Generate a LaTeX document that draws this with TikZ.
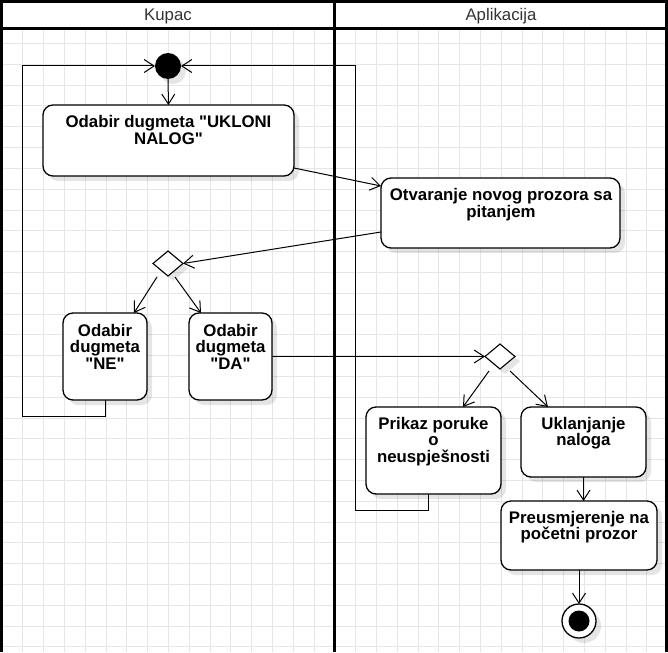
\documentclass[tikz,border=0pt]{standalone}
\usepackage{fontspec}
\setmainfont{Liberation Sans}[Ligatures=TeXOff]
\usetikzlibrary{arrows.meta,shapes.geometric,shadows}
\definecolor{gridc}{HTML}{E6E6E6}
\definecolor{hdrtxt}{HTML}{333333}
\begin{document}
\begin{tikzpicture}[x=1pt,y=-1pt,
  shd/.style={drop shadow={shadow xshift=5pt, shadow yshift=-5pt, opacity=0.1, fill=black}},
  box/.style={draw, line width=1.3pt, rounded corners=10pt, fill=white, inner sep=0pt, outer sep=0pt, shd},
  dec/.style={draw, diamond, line width=1.1pt, fill=white, inner sep=0pt, outer sep=0pt, minimum width=30pt, minimum height=25pt, shd},
  startc/.style={circle, fill=black, inner sep=0pt, outer sep=0pt, minimum size=26pt, shd},
  endo/.style={circle, draw, line width=1.3pt, fill=white, inner sep=0pt, outer sep=0pt, minimum size=34pt, shd},
  endi/.style={circle, fill=black, inner sep=0pt, minimum size=21pt},
  lbl/.style={font=\fontsize{16.8}{16.7}\selectfont\bfseries, align=center, anchor=base, inner sep=0pt},
  hdr/.style={font=\fontsize{16.8}{17}\selectfont, text=hdrtxt, anchor=base, inner sep=0pt},
  arr/.style={draw, line width=1pt, -{Straight Barb[length=10pt,width=13pt,line width=1pt]}},
  loopl/.style={draw, line width=1pt, -{Straight Barb[length=10pt,width=13pt,line width=1pt]}},
  lane/.style={draw, line width=3pt},
  gridl/.style={draw=gridc, line width=1pt}]
\useasboundingbox (0,0) rectangle (668,652);
% grid
\foreach \k in {1,...,31} {
  \draw[gridl] ({2+20.8*\k},28) -- ({2+20.8*\k},652);
}
\foreach \k in {2,...,31} {
  \draw[gridl] (0,{2+20.8*\k}) -- (668,{2+20.8*\k});
}
% header
\fill[white] (0,0) rectangle (668,28.5);
\draw[lane] (1.5,0) -- (1.5,652);
\draw[lane] (334.5,0) -- (334.5,652);
\draw[lane] (666.5,0) -- (666.5,652);
\draw[lane] (0,1.5) -- (668,1.5);
\draw[lane] (0,28.5) -- (668,28.5);
\node[hdr] (kupac) at (168,20.5) {Kupac};
\node[hdr] (aplik) at (501,20.5) {Aplikacija};

% nodes (text anchored at the baseline of the last line)
\node[startc] (start) at (168,66) {};
\node[box, minimum width=251pt, minimum height=71pt] (b1) at (168.5,140.5) {};
\node[lbl] (t1) at (168.5,144.7) {Odabir dugmeta "UKLONI\\NALOG"};
\node[box, minimum width=239pt, minimum height=70pt] (b2) at (500.5,213) {};
\node[lbl] (t2) at (501,217.2) {Otvaranje novog prozora sa\\pitanjem};
\node[dec] (d1) at (168,263.5) {};
\node[box, minimum width=84pt, minimum height=87pt] (ne) at (105,356.5) {};
\node[lbl] (t3) at (105,369.4) {Odabir\\dugmeta\\"NE"};
\node[box, minimum width=83pt, minimum height=87pt] (da) at (230.5,356.5) {};
\node[lbl] (t4) at (230.5,369.4) {Odabir\\dugmeta\\"DA"};
\node[dec] (d2) at (500,356.5) {};
\node[box, minimum width=135pt, minimum height=87pt] (pk) at (433.5,450.5) {};
\node[lbl] (t5) at (433.5,462.4) {Prikaz poruke\\o\\neuspješnosti};
\node[box, minimum width=125pt, minimum height=70pt] (uk) at (583.5,442) {};
\node[lbl] (t6) at (583.5,445.7) {Uklanjanje\\naloga};
\node[box, minimum width=156pt, minimum height=69pt] (pr) at (579,535.5) {};
\node[lbl] (t7) at (579,539.7) {Preusmjerenje na\\početni prozor};
\node[endo] (end) at (579,621) {};
\node[endi] (endin) at (579,621) {};

\coordinate (la) at (22,416);
\coordinate (lb) at (355,510);

% connectors
\draw[arr] (start.south) -- (b1.north);
\draw[arr] ([yshift=8pt]b1.south east) -- ([yshift=-8pt]b2.north west);
\draw[arr] ([yshift=16pt]b2.south west) -- (d1.east);
\draw[arr] ([xshift=-11pt,yshift=-1pt]d1.south) -- ([xshift=29pt]ne.north);
\draw[arr] ([xshift=7pt,yshift=-1pt]d1.south) -- ([xshift=-29.5pt]da.north);
\draw[arr] (da.east) -- (d2.west);
\draw[arr] ([xshift=-11pt,yshift=-2pt]d2.south) -- ([xshift=29.5pt]pk.north);
\draw[arr] ([xshift=10pt,yshift=-2pt]d2.south) -- ([xshift=-35.5pt]uk.north);
\draw[arr] (uk.south) -- (uk.south |- pr.north);
\draw[arr] (pr.south) -- (end.north);
\draw[loopl] (ne.south) |- (la) |- (start.west);
\draw[loopl] ([xshift=-5.5pt]pk.south) |- (lb) |- (start.east);
\end{tikzpicture}
\end{document}
